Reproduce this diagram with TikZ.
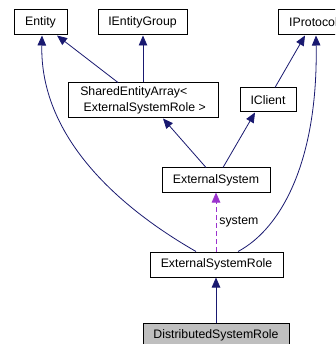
\documentclass[tikz,border=0pt]{standalone}
\usepackage{fontspec}
\setmainfont{Liberation Sans}
\usetikzlibrary{arrows.meta}
\definecolor{edgeblue}{HTML}{191970}
\definecolor{usepurple}{HTML}{9A32CD}
\definecolor{classgray}{HTML}{BFBFBF}
\tikzset{
  cls/.style={draw=black, line width=1pt, fill=white, inner sep=0pt,
    font=\fontsize{12.3}{16}\selectfont, anchor=center},
  inherit/.style={draw=edgeblue, line width=0.8pt,
    -{Triangle[length=10pt,width=8.5pt]}, edgeblue},
  usage/.style={draw=usepurple, line width=0.8pt, dash pattern=on 5pt off 3pt,
    -{Triangle[length=10pt,width=8.5pt]}, usepurple},
}
\begin{document}
\begin{tikzpicture}[x=1pt,y=-1pt]
  \useasboundingbox (0,0) rectangle (335,344);
  \clip (0,0) rectangle (335,344);
  \fill[white] (0,0) rectangle (335,344);

  % class boxes
  \node[cls, minimum width=53pt, minimum height=25pt] (entity) at (40.5,22.5) {Entity};
  \node[cls, minimum width=89pt, minimum height=25pt] (group) at (142.5,22.5) {IEntityGroup};
  \node[cls, minimum width=71pt, minimum height=25pt] (proto) at (313.5,22.5) {IProtocol};
  \node[cls, minimum width=150pt, minimum height=35pt, align=left] (shared) at (143,100.5)
    {SharedEntityArray<\\\ ExternalSystemRole >};
  \node[cls, minimum width=56pt, minimum height=24pt] (client) at (268,100) {IClient};
  \node[cls, minimum width=108pt, minimum height=24pt] (ext) at (216,180) {ExternalSystem};
  \node[cls, minimum width=133pt, minimum height=25pt] (role) at (216.5,264.5) {ExternalSystemRole};
  \node[cls, fill=classgray, minimum width=146pt, minimum height=25pt] (dist) at (216,335.5) {DistributedSystemRole};

  % inheritance edges
  \draw[inherit] (shared.north -| 118,0) -- (entity.south -| 57,0);
  \draw[inherit] (shared.north -| 143,0) -- (group.south -| 143,0);
  \draw[inherit] (role.north -| 196,0) .. controls (115,205) and (40,135) .. (entity.south -| 42,0);
  \draw[inherit] (client.north -| 275,0) -- (proto.south -| 305,0);
  \draw[inherit] (role.north -| 238,0) .. controls (282,228) and (318,160) .. (proto.south -| 316,0);
  \draw[inherit] (ext.north -| 206,0) -- (shared.south -| 163,0);
  \draw[inherit] (ext.north -| 223,0) -- (client.south -| 255,0);
  \draw[inherit] (dist.north -| 216,0) -- (role.south -| 216,0);

  % usage relation
  \draw[usage] (role.north -| 216,0) -- node[right, text=black, font=\fontsize{12.3}{16}\selectfont, inner sep=3pt] (syslbl) {system} (ext.south -| 216,0);
\end{tikzpicture}
\end{document}
